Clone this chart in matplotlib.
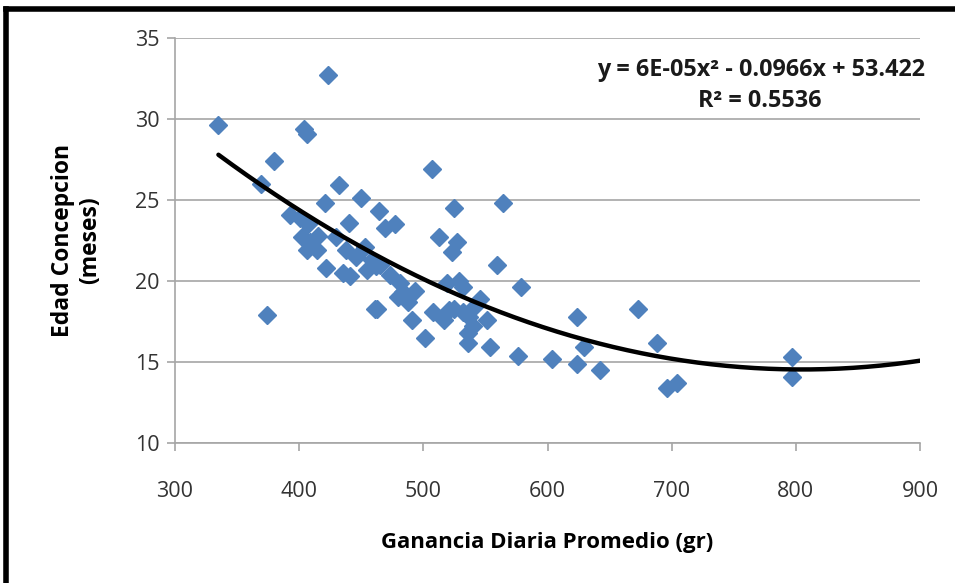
import numpy as np
import matplotlib
matplotlib.use("Agg")
import matplotlib.pyplot as plt
from matplotlib.lines import Line2D

# ganancia diaria promedio (gr) vs edad concepcion (meses)
gdp = [335, 369, 380, 374, 404, 406, 423, 393, 401, 407,
       402, 415, 406, 414, 409, 421, 432, 422, 435, 441,
       430, 438, 446, 453, 450, 440, 464, 469, 477, 455,
       462, 459, 465, 461, 463, 473, 481, 484, 480, 488,
       493, 491, 501, 508, 507, 513, 525, 527, 523, 517,
       519, 529, 532, 525, 532, 537, 546, 551, 540, 536,
       536, 554, 559, 564, 579, 576, 604, 624, 629, 624,
       642, 673, 688, 696, 704, 797, 797, 521, 541]
edad = [29.6, 26.0, 27.4, 17.9, 29.4, 29.1, 32.7, 24.1, 23.9, 23.5,
        22.7, 22.8, 21.9, 21.9, 22.4, 24.8, 25.9, 20.8, 20.5, 20.3,
        22.7, 21.9, 21.5, 22.1, 25.1, 23.6, 24.3, 23.3, 23.5, 20.7,
        20.9, 21.3, 21.0, 18.3, 18.3, 20.4, 19.9, 19.3, 19.0, 18.7,
        19.4, 17.6, 16.5, 18.1, 26.9, 22.7, 24.5, 22.4, 21.8, 17.6,
        19.9, 20.0, 19.6, 18.3, 18.1, 17.8, 18.9, 17.6, 17.2, 16.8,
        16.2, 15.9, 21.0, 24.8, 19.6, 15.4, 15.2, 17.8, 15.9, 14.9,
        14.5, 18.3, 16.2, 13.4, 13.7, 15.3, 14.1, 18.2, 18.4]

# polinomica orden 2 (Excel)
coef = [6e-05, -0.0966, 53.422]
r2 = 0.5536
x_fit = [335, 900]

font = "Open Sans"
blue = "#4F81BD"
grid_c = "#a6a6a6"

fig = plt.figure(figsize=(9.55, 5.83), dpi=100)
ax = fig.add_axes([0.1832, 0.2401, 0.7802, 0.6947])

ax.plot(gdp, edad, linestyle="none", marker="D", markersize=9.2,
        color=blue, markeredgecolor=blue, zorder=3)

xx = np.linspace(x_fit[0], x_fit[1], 200)
ax.plot(xx, np.polyval(coef, xx), color="black", lw=3.2, zorder=4,
        solid_capstyle="round")

ax.set_xlim(300, 900)
ax.set_ylim(10, 35)
ax.set_xticks(range(300, 901, 100))
ax.set_yticks(range(10, 36, 5))
ax.yaxis.grid(True, color=grid_c, lw=1.2)
ax.set_axisbelow(True)
for s in ["top", "right"]:
    ax.spines[s].set_visible(False)
for s in ["left", "bottom"]:
    ax.spines[s].set_color(grid_c)
    ax.spines[s].set_linewidth(1.2)
ax.tick_params(axis="both", colors=grid_c, length=6, width=1.2,
               labelcolor="#333333", labelsize=15.5)
ax.tick_params(axis="x", pad=21)
ax.tick_params(axis="y", pad=5)
for lab in ax.get_xticklabels() + ax.get_yticklabels():
    lab.set_fontfamily(font)

ax.set_xlabel("Ganancia Diaria Promedio (gr)", fontfamily=font,
              fontweight="bold", fontsize=16, labelpad=22)
ax.set_ylabel("Edad Concepcion\n(meses)", fontfamily=font,
              fontweight="bold", fontsize=16.5, labelpad=24,
              linespacing=1.15)

ax.text(1.007, 0.92, "y = 6E-05x² - 0.0966x + 53.422", transform=ax.transAxes,
        ha="right", va="center", fontfamily=font, fontweight="bold",
        fontsize=16.8, color="#1a1a1a")
ax.text(0.785, 0.845, "R² = " + str(r2), transform=ax.transAxes,
        ha="center", va="center", fontfamily=font, fontweight="bold",
        fontsize=16.8, color="#1a1a1a")

# black frame, top and left only
fig.add_artist(Line2D([0.0063, 1.0], [0.984, 0.984], color="black", lw=4,
                      transform=fig.transFigure))
fig.add_artist(Line2D([0.0068, 0.0068], [0.0, 0.984], color="black", lw=4,
                      transform=fig.transFigure, solid_capstyle="projecting"))

fig.savefig("out.png", dpi=100)
